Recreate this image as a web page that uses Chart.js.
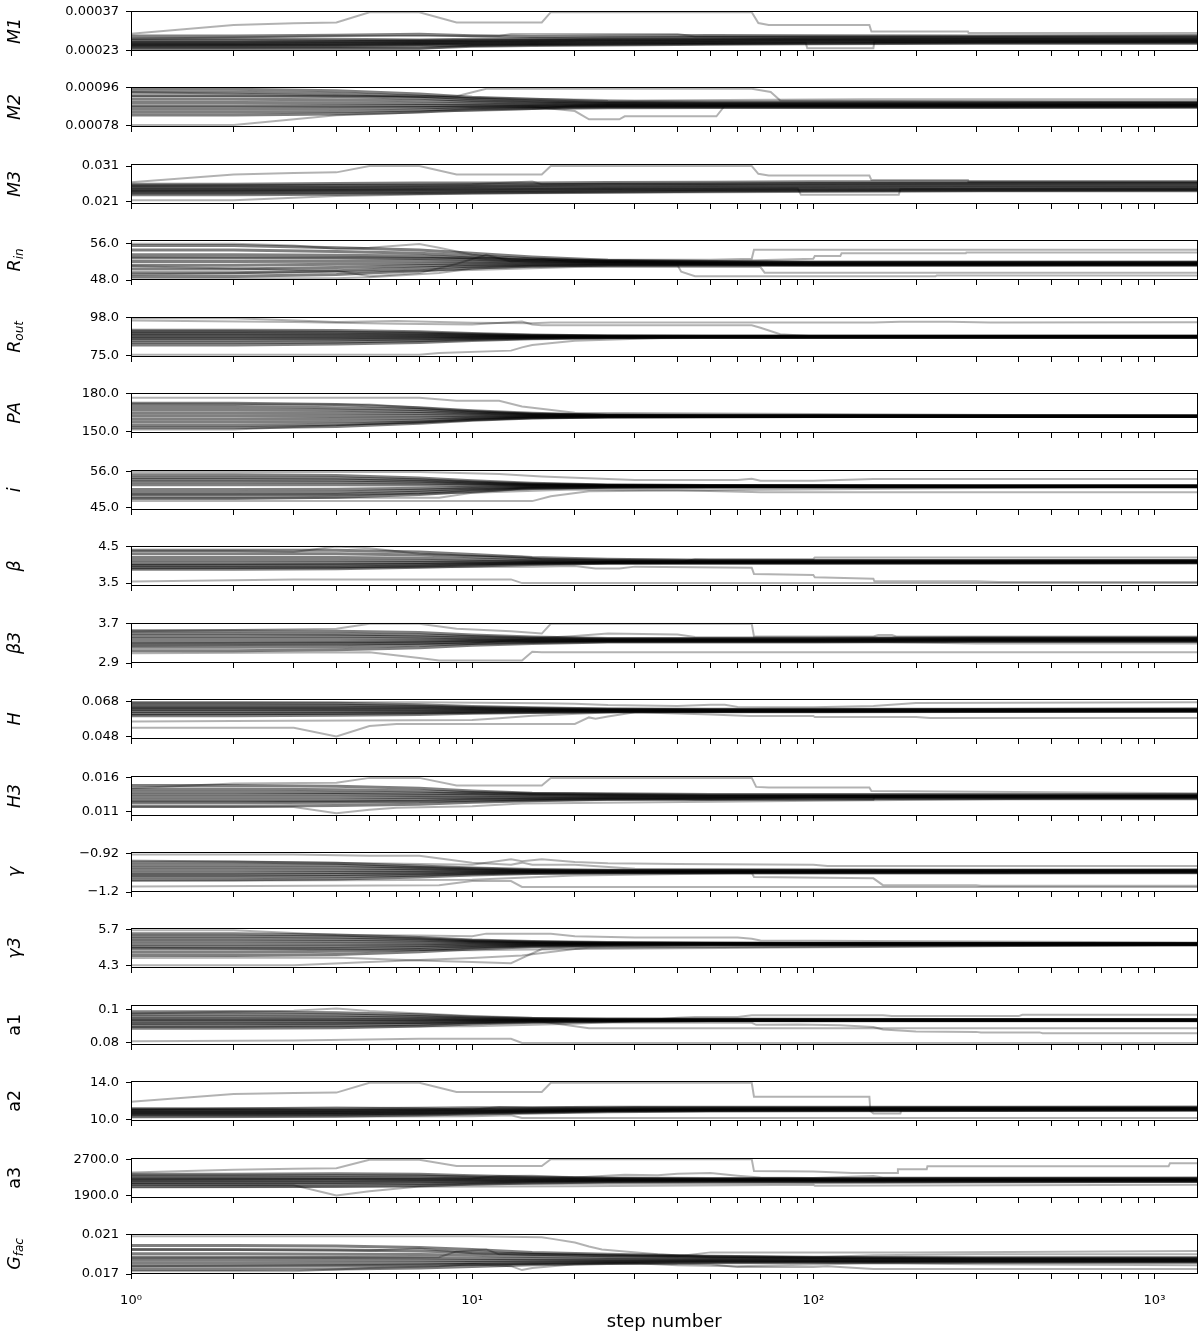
<!DOCTYPE html>
<html>
<head>
<meta charset="utf-8">
<title>Walker traces</title>
<script src="https://cdn.jsdelivr.net/npm/chart.js@4"></script>
<style>
    body { margin: 0; background: #fff; }
    #wrap { position: relative; width: 1200px; height: 1336px; overflow: hidden; }
    #wrap canvas { position: absolute; left: 0; }
</style>
</head>
<body>
<div id="wrap"></div>
<script>
// Axis text
const panelTitles = [['M1', ''], ['M2', ''], ['M3', ''], ['R', 'in'], ['R', 'out'], ['PA', ''], ['i', ''], ['β', ''], ['β3', ''],
    ['H', ''], ['H3', ''], ['γ', ''], ['γ3', ''], ['a1', ''], ['a2', ''], ['a3', ''], ['G', 'fac']];
const titleItalic = [true, true, true, true, true, true, true, true, true, true, true, true, true, false, false, false, true];
const yTickLabels = [['0.00023', '0.00037'], ['0.00078', '0.00096'], ['0.021', '0.031'], ['48.0', '56.0'], ['75.0', '98.0'],
    ['150.0', '180.0'], ['45.0', '56.0'], ['3.5', '4.5'], ['2.9', '3.7'], ['0.048', '0.068'], ['0.011', '0.016'],
    ['\u22121.2', '\u22120.92'], ['4.3', '5.7'], ['0.08', '0.1'], ['10.0', '14.0'], ['1900.0', '2700.0'], ['0.017', '0.021']];
const yTickValues = [[0.00023, 0.00037], [0.00078, 0.00096], [0.021, 0.031], [48, 56], [75, 98], [150, 180], [45, 56],
    [3.5, 4.5], [2.9, 3.7], [0.048, 0.068], [0.011, 0.016], [-1.2, -0.92], [4.3, 5.7], [0.08, 0.1], [10, 14], [1900, 2700], [0.017, 0.021]];
const yLimits = [[0.000228, 0.000373], [0.000775, 0.000964], [0.0202, 0.03164], [48, 56.74], [74.1, 98.7], [148.7, 180.9],
    [44.3, 56.5], [3.42, 4.52], [2.9, 3.72], [0.0467, 0.0696], [0.0104, 0.0162], [-1.2, -0.9056], [4.212, 5.777],
    [0.0788, 0.1027], [9.88, 14.21], [1850, 2731], [0.017, 0.02109]];
const xTickSteps = [1, 2, 3, 4, 5, 6, 7, 8, 9, 10, 20, 30, 40, 50, 60, 70, 80, 90, 100, 200, 300, 400, 500, 600, 700, 800, 900, 1000];
const xLabelSteps = [1, 10, 100, 1000];
const xLabelText = ['10\u2070', '10\u00b9', '10\u00b2', '10\u00b3'];
const xTitle = 'step number';

// Walkers: core ones share these steps, the others carry their own [step, value] pairs
const coreSteps = [1, 2, 4, 7, 10, 15, 25, 50, 100, 300, 1337];

const coreM1 = [
    [2.82e-4, 2.82e-4, 2.85e-4, 2.88e-4, 2.83e-4, 2.80e-4, 2.82e-4, 2.84e-4, 2.83e-4, 2.82e-4, 2.83e-4],
    [2.72e-4, 2.72e-4, 2.70e-4, 2.68e-4, 2.70e-4, 2.72e-4, 2.75e-4, 2.77e-4, 2.78e-4, 2.77e-4, 2.78e-4],
    [2.65e-4, 2.65e-4, 2.64e-4, 2.65e-4, 2.66e-4, 2.68e-4, 2.70e-4, 2.72e-4, 2.73e-4, 2.74e-4, 2.74e-4],
    [2.60e-4, 2.60e-4, 2.61e-4, 2.62e-4, 2.63e-4, 2.65e-4, 2.67e-4, 2.68e-4, 2.70e-4, 2.71e-4, 2.71e-4],
    [2.56e-4, 2.56e-4, 2.57e-4, 2.58e-4, 2.60e-4, 2.62e-4, 2.64e-4, 2.66e-4, 2.67e-4, 2.68e-4, 2.68e-4],
    [2.52e-4, 2.52e-4, 2.53e-4, 2.55e-4, 2.57e-4, 2.59e-4, 2.61e-4, 2.63e-4, 2.64e-4, 2.65e-4, 2.65e-4],
    [2.48e-4, 2.48e-4, 2.49e-4, 2.51e-4, 2.53e-4, 2.55e-4, 2.57e-4, 2.59e-4, 2.61e-4, 2.62e-4, 2.62e-4],
    [2.43e-4, 2.43e-4, 2.44e-4, 2.46e-4, 2.48e-4, 2.51e-4, 2.53e-4, 2.55e-4, 2.57e-4, 2.58e-4, 2.58e-4],
    [2.38e-4, 2.38e-4, 2.38e-4, 2.38e-4, 2.45e-4, 2.48e-4, 2.50e-4, 2.52e-4, 2.54e-4, 2.56e-4, 2.56e-4]
];
const extraM1 = [
    [[1, 2.90e-4], [2, 3.22e-4], [3, 3.28e-4], [4, 3.31e-4], [5, 3.68e-4], [7, 3.68e-4], [9, 3.31e-4], [16, 3.31e-4], [17, 3.68e-4],
        [66, 3.68e-4], [69, 3.29e-4], [74, 3.22e-4], [146, 3.22e-4], [148, 2.98e-4], [284, 2.98e-4], [285, 2.93e-4], [1337, 2.93e-4]],
    [[1, 2.72e-4], [4, 2.82e-4], [12, 2.82e-4], [13, 2.89e-4], [40, 2.89e-4], [45, 2.80e-4], [100, 2.80e-4], [1337, 2.84e-4]],
    [[1, 2.48e-4], [50, 2.58e-4], [95, 2.58e-4], [96, 2.38e-4], [150, 2.38e-4], [151, 2.62e-4], [1337, 2.66e-4]],
    [[1, 2.36e-4], [7, 2.36e-4], [10, 2.48e-4], [1337, 2.62e-4]]
];

const coreM2 = [
    [9.52e-4, 9.52e-4, 9.45e-4, 9.30e-4, 9.15e-4, 9.05e-4, 8.95e-4, 8.93e-4, 8.93e-4, 8.92e-4, 8.93e-4],
    [9.38e-4, 9.38e-4, 9.32e-4, 9.20e-4, 9.08e-4, 8.98e-4, 8.90e-4, 8.88e-4, 8.88e-4, 8.87e-4, 8.88e-4],
    [9.22e-4, 9.22e-4, 9.18e-4, 9.10e-4, 9.00e-4, 8.92e-4, 8.86e-4, 8.84e-4, 8.84e-4, 8.84e-4, 8.85e-4],
    [9.05e-4, 9.05e-4, 9.03e-4, 8.98e-4, 8.92e-4, 8.87e-4, 8.83e-4, 8.81e-4, 8.81e-4, 8.81e-4, 8.82e-4],
    [8.90e-4, 8.90e-4, 8.89e-4, 8.86e-4, 8.83e-4, 8.80e-4, 8.78e-4, 8.78e-4, 8.78e-4, 8.78e-4, 8.79e-4],
    [8.75e-4, 8.75e-4, 8.76e-4, 8.76e-4, 8.76e-4, 8.75e-4, 8.75e-4, 8.75e-4, 8.75e-4, 8.75e-4, 8.76e-4],
    [8.60e-4, 8.60e-4, 8.62e-4, 8.66e-4, 8.69e-4, 8.71e-4, 8.72e-4, 8.72e-4, 8.72e-4, 8.72e-4, 8.73e-4],
    [8.45e-4, 8.45e-4, 8.48e-4, 8.55e-4, 8.62e-4, 8.66e-4, 8.69e-4, 8.69e-4, 8.69e-4, 8.69e-4, 8.70e-4],
    [8.32e-4, 8.32e-4, 8.36e-4, 8.46e-4, 8.56e-4, 8.62e-4, 8.66e-4, 8.67e-4, 8.67e-4, 8.67e-4, 8.68e-4]
];
const extraM2 = [
    [[1, 7.84e-4], [2, 7.84e-4], [4, 8.30e-4], [6, 8.40e-4], [8, 8.50e-4], [10, 8.50e-4], [15, 8.60e-4], [20, 8.75e-4], [1337, 8.78e-4]],
    [[1, 9.20e-4], [9, 9.20e-4], [11, 9.55e-4], [66, 9.55e-4], [75, 9.40e-4], [80, 9.00e-4], [1337, 8.90e-4]],
    [[1, 8.70e-4], [15, 8.70e-4], [20, 8.50e-4], [22, 8.11e-4], [27, 8.11e-4], [28, 8.25e-4], [52, 8.25e-4], [55, 8.75e-4], [1337, 8.77e-4]],
    [[1, 9.40e-4], [30, 9.00e-4], [140, 9.05e-4], [1337, 9.05e-4]]
];

const coreM3 = [
    [0.0258, 0.0258, 0.0260, 0.0262, 0.0262, 0.0262, 0.0263, 0.0264, 0.0265, 0.0265, 0.0265],
    [0.0253, 0.0253, 0.0254, 0.0255, 0.0256, 0.0257, 0.0258, 0.0259, 0.0260, 0.0261, 0.0261],
    [0.0249, 0.0249, 0.0250, 0.0251, 0.0252, 0.0253, 0.0254, 0.0255, 0.0256, 0.0257, 0.0257],
    [0.0245, 0.0245, 0.0246, 0.0247, 0.0248, 0.0249, 0.0250, 0.0251, 0.0252, 0.0253, 0.0253],
    [0.0241, 0.0241, 0.0242, 0.0243, 0.0244, 0.0245, 0.0246, 0.0247, 0.0248, 0.0249, 0.0249],
    [0.0237, 0.0237, 0.0238, 0.0239, 0.0240, 0.0241, 0.0242, 0.0243, 0.0244, 0.0245, 0.0245],
    [0.0233, 0.0233, 0.0234, 0.0235, 0.0236, 0.0237, 0.0238, 0.0240, 0.0241, 0.0242, 0.0242],
    [0.0228, 0.0228, 0.0230, 0.0232, 0.0233, 0.0235, 0.0236, 0.0238, 0.0239, 0.0240, 0.0240]
];
const extraM3 = [
    [[1, 0.0264], [2, 0.0286], [3, 0.0290], [4, 0.0292], [5, 0.0310], [7, 0.0310], [9, 0.0286], [16, 0.0286], [17, 0.0310],
        [66, 0.0310], [69, 0.0288], [74, 0.0283], [146, 0.0283], [148, 0.0270], [284, 0.0270], [285, 0.0265], [1337, 0.0265]],
    [[1, 0.0213], [2, 0.0213], [4, 0.0225], [10, 0.0232], [1337, 0.0242]],
    [[1, 0.0240], [65, 0.0246], [90, 0.0246], [92, 0.0228], [178, 0.0228], [180, 0.0245], [1337, 0.0247]],
    [[1, 0.0255], [10, 0.0258], [12, 0.0262], [15, 0.0266], [16, 0.0258], [1337, 0.0262]]
];

const coreRin = [
    [55.5, 55.5, 55.0, 54.5, 53.8, 53.0, 52.3, 52.0, 51.9, 51.9, 51.9],
    [54.5, 54.5, 54.2, 53.8, 53.2, 52.6, 52.1, 51.9, 51.8, 51.8, 51.8],
    [53.5, 53.5, 53.4, 53.2, 52.8, 52.3, 52.0, 51.8, 51.7, 51.7, 51.7],
    [52.8, 52.8, 52.8, 52.7, 52.5, 52.1, 51.9, 51.7, 51.6, 51.6, 51.6],
    [52.0, 52.0, 52.1, 52.2, 52.1, 51.9, 51.8, 51.6, 51.5, 51.5, 51.5],
    [51.2, 51.2, 51.4, 51.6, 51.7, 51.7, 51.6, 51.5, 51.4, 51.4, 51.4],
    [50.4, 50.4, 50.7, 51.1, 51.3, 51.4, 51.4, 51.4, 51.3, 51.3, 51.4],
    [49.6, 49.6, 50.0, 50.6, 51.0, 51.2, 51.3, 51.3, 51.3, 51.3, 51.3],
    [48.8, 48.8, 49.2, 50.0, 50.6, 51.0, 51.2, 51.2, 51.2, 51.2, 51.2]
];
const extraRin = [
    [[1, 55.9], [2, 55.9], [3, 55.5], [4, 54.8], [5, 55.0], [7, 55.8], [8, 55.0], [10, 53.5], [13, 52.5], [30, 52.2], [60, 52.2],
        [100, 52.6], [101, 53.2], [120, 53.2], [121, 53.8], [280, 53.8], [281, 54.0], [1337, 54.0]],
    [[1, 53.0], [10, 52.8], [20, 52.4], [50, 52.4], [66, 52.6], [67, 54.6], [1337, 54.6]],
    [[1, 48.4], [4, 48.4], [5, 48.6], [8, 49.5], [10, 50.5], [15, 51.0], [40, 51.2], [41, 49.8], [45, 48.8], [228, 48.8], [230, 49.0], [1337, 49.0]],
    [[1, 49.2], [10, 50.2], [20, 50.8], [70, 50.8], [72, 49.6], [1337, 49.6]],
    [[1, 51.0], [4, 50.0], [5, 48.8], [7, 49.5], [9, 51.5], [11, 53.5], [13, 52.0], [16, 52.5], [20, 51.9], [1337, 51.8]]
];

const coreRout = [
    [90.5, 90.5, 90.3, 89.5, 88.5, 87.5, 87.0, 86.9, 86.9, 86.9, 86.9],
    [89.5, 89.5, 89.3, 88.8, 88.0, 87.3, 86.9, 86.8, 86.8, 86.8, 86.8],
    [88.5, 88.5, 88.4, 88.0, 87.5, 87.0, 86.8, 86.7, 86.7, 86.7, 86.7],
    [87.5, 87.5, 87.4, 87.2, 87.0, 86.8, 86.7, 86.6, 86.6, 86.6, 86.6],
    [86.5, 86.5, 86.5, 86.5, 86.5, 86.5, 86.5, 86.5, 86.5, 86.5, 86.5],
    [85.5, 85.5, 85.6, 85.8, 86.0, 86.2, 86.4, 86.4, 86.4, 86.4, 86.4],
    [84.5, 84.5, 84.7, 85.1, 85.5, 85.9, 86.2, 86.3, 86.3, 86.3, 86.3],
    [83.0, 83.0, 83.3, 84.0, 84.8, 85.5, 86.0, 86.2, 86.2, 86.2, 86.2],
    [81.5, 81.5, 82.0, 83.0, 84.2, 85.2, 85.9, 86.1, 86.1, 86.1, 86.1]
];
const extraRout = [
    [[1, 97.8], [2, 97.8], [4, 95.5], [6, 96.2], [10, 95.0], [15, 94.8], [17, 95.2], [150, 95.2], [180, 95.6], [250, 95.6], [330, 95.2], [1337, 95.4]],
    [[1, 96.5], [3, 95.5], [6, 94.5], [10, 94.0], [14, 95.8], [15, 94.0], [16, 93.5], [66, 93.5], [70, 92.0], [80, 88.0], [100, 86.8], [1337, 86.8]],
    [[1, 75.5], [7, 75.5], [8, 76.5], [13, 78.0], [14, 80.0], [15, 81.5], [20, 84.0], [40, 86.0], [1337, 86.6]]
];

const corePA = [
    [172.5, 172.5, 171.5, 169.0, 166.5, 164.5, 163.0, 162.6, 162.5, 162.4, 162.4],
    [170.0, 170.0, 169.0, 167.5, 165.5, 164.0, 162.8, 162.5, 162.4, 162.3, 162.3],
    [167.5, 167.5, 167.0, 166.0, 164.8, 163.5, 162.7, 162.4, 162.3, 162.3, 162.3],
    [165.0, 165.0, 164.8, 164.3, 163.8, 163.0, 162.5, 162.3, 162.3, 162.2, 162.2],
    [162.5, 162.5, 162.5, 162.5, 162.5, 162.3, 162.3, 162.2, 162.2, 162.2, 162.2],
    [160.0, 160.0, 160.3, 160.8, 161.4, 161.9, 162.1, 162.1, 162.1, 162.1, 162.1],
    [157.5, 157.5, 158.0, 159.0, 160.5, 161.5, 162.0, 162.0, 162.0, 162.0, 162.0],
    [155.0, 155.0, 155.8, 157.5, 159.5, 161.0, 161.8, 161.9, 161.9, 161.9, 161.9],
    [153.0, 153.0, 154.0, 156.5, 159.0, 160.7, 161.6, 161.8, 161.9, 161.9, 161.9]
];
const extraPA = [
    [[1, 177.0], [7, 177.0], [9, 174.5], [12, 174.5], [14, 170.0], [20, 165.0], [1337, 162.4]],
    [[1, 172.0], [4, 171.5], [5, 171.5], [8, 168.0], [15, 164.0], [1337, 162.3]],
    [[1, 151.5], [2, 151.5], [4, 155.0], [8, 158.0], [15, 161.0], [1337, 162.1]]
];

const coreI = [
    [55.0, 55.0, 54.8, 54.0, 53.2, 52.4, 51.9, 51.7, 51.7, 51.6, 51.6],
    [54.2, 54.2, 54.0, 53.5, 52.8, 52.2, 51.8, 51.7, 51.6, 51.6, 51.6],
    [53.5, 53.5, 53.4, 53.0, 52.5, 52.0, 51.7, 51.6, 51.6, 51.6, 51.6],
    [52.8, 52.8, 52.7, 52.5, 52.2, 51.9, 51.7, 51.6, 51.6, 51.5, 51.5],
    [52.0, 52.0, 52.0, 51.9, 51.8, 51.7, 51.6, 51.5, 51.5, 51.5, 51.5],
    [50.5, 50.5, 50.6, 50.9, 51.2, 51.4, 51.5, 51.5, 51.5, 51.5, 51.5],
    [49.6, 49.6, 49.8, 50.3, 50.8, 51.2, 51.4, 51.4, 51.4, 51.4, 51.4],
    [48.8, 48.8, 49.0, 49.7, 50.4, 51.0, 51.3, 51.4, 51.4, 51.4, 51.4],
    [47.8, 47.8, 48.2, 49.0, 50.0, 50.8, 51.2, 51.3, 51.3, 51.3, 51.3]
];
const extraI = [
    [[1, 55.8], [7, 55.8], [12, 55.2], [16, 54.5], [30, 53.4], [60, 53.4], [66, 53.8], [70, 53.2], [100, 53.2], [150, 53.7], [1337, 53.7]],
    [[1, 47.0], [10, 47.0], [15, 47.0], [17, 48.5], [22, 50.0], [1337, 51.5]],
    [[1, 49.0], [5, 49.0], [10, 49.5], [20, 50.5], [40, 50.3], [66, 49.8], [70, 49.7], [1337, 49.7]],
    [[1, 48.0], [8, 48.0], [10, 49.5], [14, 50.8], [1337, 51.4]]
];

const coreBeta = [
    [4.40, 4.40, 4.40, 4.35, 4.28, 4.20, 4.15, 4.12, 4.12, 4.12, 4.12],
    [4.30, 4.30, 4.30, 4.27, 4.22, 4.16, 4.12, 4.10, 4.10, 4.10, 4.11],
    [4.20, 4.20, 4.20, 4.18, 4.15, 4.12, 4.10, 4.09, 4.09, 4.09, 4.10],
    [4.12, 4.12, 4.12, 4.11, 4.10, 4.09, 4.08, 4.08, 4.08, 4.08, 4.09],
    [4.04, 4.04, 4.05, 4.06, 4.07, 4.07, 4.07, 4.07, 4.07, 4.07, 4.08],
    [3.98, 3.98, 3.99, 4.01, 4.03, 4.05, 4.06, 4.06, 4.06, 4.06, 4.07],
    [3.93, 3.93, 3.94, 3.97, 4.00, 4.03, 4.05, 4.05, 4.05, 4.05, 4.06],
    [3.88, 3.88, 3.89, 3.93, 3.97, 4.01, 4.04, 4.04, 4.04, 4.05, 4.05]
];
const extraBeta = [
    [[1, 4.38], [2, 4.38], [3, 4.35], [4, 4.50], [5, 4.45], [7, 4.30], [10, 4.25], [14, 4.22], [16, 4.15], [1337, 4.12]],
    [[1, 3.54], [2, 3.58], [3, 3.60], [13, 3.60], [14, 3.50], [1337, 3.50]],
    [[1, 3.90], [15, 3.95], [20, 3.97], [23, 3.90], [27, 3.90], [30, 3.95], [66, 3.92], [67, 3.75], [100, 3.72], [101, 3.66],
        [150, 3.62], [151, 3.55], [300, 3.55], [350, 3.53], [1337, 3.53]],
    [[1, 4.00], [40, 4.05], [45, 4.15], [100, 4.16], [101, 4.20], [1337, 4.20]]
];

const coreBeta3 = [
    [3.56, 3.56, 3.55, 3.52, 3.47, 3.43, 3.40, 3.40, 3.40, 3.41, 3.41],
    [3.50, 3.50, 3.49, 3.47, 3.44, 3.41, 3.39, 3.39, 3.39, 3.40, 3.40],
    [3.45, 3.45, 3.45, 3.43, 3.41, 3.39, 3.38, 3.38, 3.38, 3.39, 3.39],
    [3.40, 3.40, 3.40, 3.39, 3.38, 3.37, 3.37, 3.37, 3.37, 3.38, 3.38],
    [3.34, 3.34, 3.34, 3.35, 3.36, 3.36, 3.36, 3.36, 3.36, 3.37, 3.37],
    [3.28, 3.28, 3.29, 3.31, 3.33, 3.34, 3.35, 3.35, 3.35, 3.36, 3.36],
    [3.22, 3.22, 3.23, 3.26, 3.30, 3.32, 3.34, 3.34, 3.34, 3.35, 3.35],
    [3.15, 3.15, 3.17, 3.21, 3.26, 3.30, 3.33, 3.33, 3.33, 3.34, 3.34]
];
const extraBeta3 = [
    [[1, 3.55], [4, 3.60], [5, 3.70], [7, 3.70], [9, 3.60], [13, 3.55], [16, 3.50], [17, 3.70], [66, 3.70], [67, 3.44], [150, 3.44],
        [155, 3.47], [170, 3.47], [175, 3.44], [1337, 3.44]],
    [[1, 3.10], [5, 3.12], [7, 3.00], [8, 2.95], [14, 2.95], [15, 3.13], [16, 3.12], [1337, 3.12]],
    [[1, 3.25], [10, 3.30], [15, 3.40], [20, 3.45], [25, 3.50], [40, 3.48], [45, 3.43], [1337, 3.42]],
    [[1, 3.30], [20, 3.35], [100, 3.35], [300, 3.30], [1337, 3.30]]
];

const coreH = [
    [0.0672, 0.0672, 0.0670, 0.0662, 0.0652, 0.0645, 0.0638, 0.0636, 0.0636, 0.0637, 0.0638],
    [0.0660, 0.0660, 0.0659, 0.0654, 0.0647, 0.0641, 0.0636, 0.0634, 0.0634, 0.0635, 0.0636],
    [0.0650, 0.0650, 0.0649, 0.0646, 0.0641, 0.0637, 0.0634, 0.0632, 0.0632, 0.0633, 0.0634],
    [0.0642, 0.0642, 0.0641, 0.0639, 0.0636, 0.0633, 0.0631, 0.0630, 0.0630, 0.0631, 0.0632],
    [0.0634, 0.0634, 0.0633, 0.0632, 0.0631, 0.0630, 0.0629, 0.0628, 0.0628, 0.0629, 0.0630],
    [0.0624, 0.0624, 0.0624, 0.0624, 0.0625, 0.0626, 0.0627, 0.0626, 0.0626, 0.0627, 0.0628],
    [0.0612, 0.0612, 0.0613, 0.0616, 0.0619, 0.0622, 0.0624, 0.0624, 0.0624, 0.0625, 0.0626],
    [0.0600, 0.0600, 0.0602, 0.0607, 0.0613, 0.0618, 0.0622, 0.0622, 0.0622, 0.0623, 0.0624]
];
const extraH = [
    [[1, 0.0531], [3, 0.0531], [4, 0.0482], [5, 0.0541], [6, 0.0553], [20, 0.0553], [22, 0.0590], [23, 0.0583], [25, 0.0595], [30, 0.0620], [1337, 0.0628]],
    [[1, 0.0567], [2, 0.0569], [10, 0.0575], [12, 0.0585], [15, 0.0600], [30, 0.0625], [1337, 0.0630]],
    [[1, 0.0676], [7, 0.0676], [16, 0.0670], [20, 0.0668], [25, 0.0660], [40, 0.0655], [50, 0.0662], [55, 0.0662], [60, 0.0650],
        [100, 0.0648], [150, 0.0655], [200, 0.0672], [1337, 0.0677]],
    [[1, 0.0605], [30, 0.0620], [40, 0.0612], [50, 0.0606], [65, 0.0598], [100, 0.0598], [101, 0.0592], [200, 0.0592], [220, 0.0587], [1337, 0.0587]]
];

const coreH3 = [
    [0.0148, 0.0148, 0.0147, 0.0144, 0.0140, 0.0137, 0.0136, 0.0135, 0.0135, 0.0135, 0.0135],
    [0.0143, 0.0143, 0.0142, 0.0140, 0.0138, 0.0136, 0.0135, 0.0134, 0.0134, 0.0134, 0.0134],
    [0.0139, 0.0139, 0.0138, 0.0137, 0.0136, 0.0135, 0.0134, 0.0133, 0.0133, 0.0133, 0.0133],
    [0.0135, 0.0135, 0.0135, 0.0134, 0.0134, 0.0133, 0.0133, 0.0132, 0.0132, 0.0132, 0.0133],
    [0.0131, 0.0131, 0.0131, 0.0131, 0.0131, 0.0131, 0.0131, 0.0131, 0.0132, 0.0132, 0.0132],
    [0.0127, 0.0127, 0.0127, 0.0128, 0.0129, 0.0129, 0.0130, 0.0130, 0.0131, 0.0131, 0.0131],
    [0.0123, 0.0123, 0.0124, 0.0125, 0.0127, 0.0128, 0.0129, 0.0129, 0.0130, 0.0130, 0.0130],
    [0.0118, 0.0118, 0.0119, 0.0121, 0.0124, 0.0126, 0.0128, 0.0128, 0.0129, 0.0129, 0.0129]
];
const extraH3 = [
    [[1, 0.0144], [2, 0.0151], [4, 0.0152], [5, 0.0159], [7, 0.0159], [9, 0.0148], [16, 0.0148], [17, 0.0159], [66, 0.0159],
        [68, 0.0146], [74, 0.0145], [146, 0.0145], [148, 0.0140], [1337, 0.0137]],
    [[1, 0.0117], [3, 0.0117], [4, 0.0108], [5, 0.0113], [6, 0.0116], [10, 0.0118], [14, 0.0122], [1337, 0.0131]],
    [[1, 0.0125], [10, 0.0125], [40, 0.0128], [45, 0.0127], [150, 0.0127], [151, 0.0133], [1337, 0.0133]]
];

const coreGamma = [
    [-0.980, -0.980, -0.990, -1.010, -1.025, -1.035, -1.040, -1.040, -1.040, -1.040, -1.038],
    [-1.000, -1.000, -1.005, -1.020, -1.030, -1.040, -1.043, -1.043, -1.043, -1.043, -1.041],
    [-1.020, -1.020, -1.022, -1.030, -1.038, -1.044, -1.046, -1.046, -1.046, -1.045, -1.044],
    [-1.040, -1.040, -1.040, -1.042, -1.045, -1.048, -1.049, -1.049, -1.049, -1.048, -1.047],
    [-1.060, -1.060, -1.058, -1.055, -1.053, -1.052, -1.052, -1.052, -1.052, -1.051, -1.050],
    [-1.075, -1.075, -1.072, -1.066, -1.060, -1.056, -1.055, -1.055, -1.055, -1.054, -1.053],
    [-1.090, -1.090, -1.086, -1.077, -1.067, -1.060, -1.058, -1.058, -1.058, -1.057, -1.056],
    [-1.110, -1.110, -1.105, -1.090, -1.075, -1.065, -1.061, -1.061, -1.061, -1.060, -1.059]
];
const extraGamma = [
    [[1, -0.925], [3, -0.925], [5, -0.935], [7, -0.935], [10, -0.985], [13, -1.000], [14, -0.985], [15, -1.000], [20, -1.000], [30, -1.030], [1337, -1.040]],
    [[1, -1.160], [8, -1.150], [10, -1.120], [13, -1.120], [14, -1.163], [1337, -1.163]],
    [[1, -1.120], [10, -1.110], [20, -1.080], [66, -1.060], [67, -1.090], [150, -1.100], [160, -1.150], [300, -1.150], [310, -1.155], [1337, -1.155]],
    [[1, -0.970], [5, -0.990], [10, -1.000], [13, -0.960], [14, -0.975], [16, -0.960], [20, -0.980], [25, -0.990], [40, -0.995],
        [100, -1.000], [110, -1.010], [1337, -1.010]]
];

const coreGamma3 = [
    [5.55, 5.55, 5.50, 5.40, 5.30, 5.24, 5.20, 5.19, 5.18, 5.18, 5.17],
    [5.45, 5.45, 5.42, 5.35, 5.27, 5.22, 5.19, 5.18, 5.17, 5.17, 5.16],
    [5.35, 5.35, 5.33, 5.29, 5.24, 5.20, 5.18, 5.17, 5.17, 5.16, 5.16],
    [5.25, 5.25, 5.24, 5.22, 5.20, 5.18, 5.17, 5.16, 5.16, 5.16, 5.15],
    [5.15, 5.15, 5.15, 5.15, 5.16, 5.16, 5.16, 5.16, 5.15, 5.15, 5.15],
    [5.05, 5.05, 5.06, 5.08, 5.11, 5.13, 5.14, 5.15, 5.15, 5.15, 5.14],
    [4.95, 4.95, 4.97, 5.01, 5.06, 5.10, 5.13, 5.14, 5.14, 5.14, 5.14],
    [4.83, 4.83, 4.86, 4.93, 5.01, 5.07, 5.11, 5.13, 5.13, 5.13, 5.13],
    [4.70, 4.70, 4.74, 4.84, 4.95, 5.04, 5.09, 5.12, 5.12, 5.12, 5.12]
];
const extraGamma3 = [
    [[1, 5.68], [2, 5.68], [4, 5.50], [7, 5.48], [10, 5.45], [11, 5.55], [17, 5.55], [20, 5.45], [30, 5.40], [60, 5.40], [66, 5.35], [70, 5.28], [1337, 5.20]],
    [[1, 4.32], [3, 4.32], [5, 4.45], [8, 4.55], [10, 4.60], [14, 4.70], [20, 4.95], [1337, 5.12]],
    [[1, 4.60], [4, 4.62], [7, 4.50], [10, 4.45], [13, 4.40], [14, 4.60], [16, 4.95], [20, 5.02], [1337, 5.10]],
    [[1, 5.00], [10, 4.90], [20, 4.95], [22, 5.00], [1337, 5.10]]
];

const coreA1 = [
    [0.0985, 0.0985, 0.0980, 0.0968, 0.0955, 0.0945, 0.0940, 0.0939, 0.0939, 0.0939, 0.0939],
    [0.0970, 0.0970, 0.0966, 0.0958, 0.0949, 0.0942, 0.0938, 0.0938, 0.0938, 0.0938, 0.0938],
    [0.0955, 0.0955, 0.0953, 0.0948, 0.0943, 0.0939, 0.0937, 0.0937, 0.0937, 0.0937, 0.0937],
    [0.0942, 0.0942, 0.0941, 0.0939, 0.0937, 0.0936, 0.0936, 0.0936, 0.0936, 0.0936, 0.0936],
    [0.0930, 0.0930, 0.0930, 0.0931, 0.0932, 0.0933, 0.0934, 0.0935, 0.0935, 0.0935, 0.0935],
    [0.0917, 0.0917, 0.0918, 0.0922, 0.0926, 0.0930, 0.0933, 0.0934, 0.0934, 0.0934, 0.0934],
    [0.0903, 0.0903, 0.0905, 0.0912, 0.0920, 0.0927, 0.0931, 0.0933, 0.0933, 0.0933, 0.0933],
    [0.0888, 0.0888, 0.0891, 0.0901, 0.0913, 0.0923, 0.0929, 0.0932, 0.0932, 0.0932, 0.0932]
];
const extraA1 = [
    [[1, 0.0975], [2, 0.0985], [3, 0.0992], [4, 0.1005], [5, 0.0990], [7, 0.0975], [10, 0.0960], [15, 0.0950], [1337, 0.0938]],
    [[1, 0.0810], [3, 0.0815], [7, 0.0825], [13, 0.0825], [14, 0.0800], [1337, 0.0800]],
    [[1, 0.0895], [10, 0.0900], [20, 0.0915], [30, 0.0930], [40, 0.0950], [45, 0.0955], [60, 0.0955], [66, 0.0965], [160, 0.0965],
        [170, 0.0960], [400, 0.0960], [410, 0.0968], [1337, 0.0968]],
    [[1, 0.0915], [20, 0.0922], [66, 0.0920], [68, 0.0908], [90, 0.0910], [120, 0.0905], [150, 0.0895], [160, 0.0880], [200, 0.0868],
        [300, 0.0866], [310, 0.0863], [460, 0.0863], [470, 0.0858], [1337, 0.0858]],
    [[1, 0.0935], [15, 0.0935], [22, 0.0888], [1337, 0.0888]]
];

const coreA2 = [
    [11.20, 11.20, 11.20, 11.25, 11.30, 11.30, 11.35, 11.35, 11.35, 11.35, 11.40],
    [11.05, 11.05, 11.05, 11.10, 11.15, 11.20, 11.25, 11.27, 11.28, 11.30, 11.32],
    [10.95, 10.95, 10.95, 11.00, 11.05, 11.10, 11.15, 11.20, 11.22, 11.24, 11.26],
    [10.85, 10.85, 10.86, 10.90, 10.95, 11.02, 11.10, 11.15, 11.17, 11.19, 11.21],
    [10.75, 10.75, 10.76, 10.80, 10.87, 10.95, 11.05, 11.10, 11.12, 11.14, 11.16],
    [10.65, 10.65, 10.67, 10.72, 10.80, 10.88, 11.00, 11.05, 11.08, 11.10, 11.12],
    [10.55, 10.55, 10.57, 10.63, 10.72, 10.82, 10.95, 11.00, 11.03, 11.05, 11.08],
    [10.40, 10.40, 10.43, 10.52, 10.63, 10.75, 10.88, 10.95, 10.98, 11.00, 11.03]
];
const extraA2 = [
    [[1, 11.94], [2, 12.79], [3, 12.90], [4, 12.94], [5, 14.00], [7, 14.00], [9, 13.00], [16, 13.00], [17, 14.00], [66, 14.00],
        [67, 12.50], [146, 12.50], [147, 10.95], [150, 10.70], [180, 10.70], [181, 11.00], [1337, 11.05]],
    [[1, 11.10], [4, 11.35], [7, 11.25], [10, 11.10], [12, 11.40], [15, 11.30], [20, 11.35], [25, 11.30], [30, 11.40], [40, 11.35], [1337, 11.30]],
    [[1, 10.25], [10, 10.40], [13, 10.50], [14, 10.20], [1337, 10.20]],
    [[1, 11.20], [5, 11.10], [10, 11.00], [50, 11.05], [100, 10.95], [1337, 11.25]]
];

const coreA3 = [
    [2370, 2370, 2380, 2370, 2340, 2310, 2290, 2280, 2280, 2280, 2285],
    [2330, 2330, 2335, 2330, 2310, 2290, 2275, 2268, 2268, 2270, 2272],
    [2290, 2290, 2292, 2290, 2280, 2270, 2262, 2258, 2258, 2260, 2262],
    [2260, 2260, 2260, 2258, 2255, 2252, 2250, 2248, 2248, 2250, 2252],
    [2225, 2225, 2226, 2228, 2230, 2233, 2237, 2238, 2238, 2240, 2242],
    [2190, 2190, 2192, 2198, 2205, 2215, 2225, 2228, 2228, 2230, 2232],
    [2150, 2150, 2155, 2165, 2180, 2198, 2212, 2218, 2218, 2220, 2222],
    [2100, 2100, 2108, 2125, 2150, 2178, 2200, 2208, 2208, 2210, 2212]
];
const extraA3 = [
    [[1, 2408], [2, 2470], [3, 2490], [4, 2501], [5, 2688], [7, 2688], [9, 2551], [16, 2551], [17, 2700], [66, 2700], [67, 2440],
        [100, 2430], [130, 2400], [176, 2400], [177, 2480], [215, 2480], [216, 2545], [1100, 2545], [1110, 2610], [1337, 2610]],
    [[1, 2150], [3, 2130], [4, 1905], [5, 2000], [7, 2100], [10, 2150], [1337, 2200]],
    [[1, 2250], [10, 2280], [12, 2330], [15, 2340], [20, 2300], [28, 2360], [35, 2350], [40, 2380], [50, 2400], [60, 2340],
        [70, 2300], [100, 2290], [150, 2330], [160, 2300], [1337, 2300]],
    [[1, 2080], [20, 2110], [100, 2140], [101, 2120], [1337, 2140]]
];

const coreGfac = [
    [0.01990, 0.01990, 0.01985, 0.01970, 0.01950, 0.01920, 0.01900, 0.01880, 0.01870, 0.01865, 0.01865],
    [0.01950, 0.01950, 0.01945, 0.01935, 0.01920, 0.01900, 0.01885, 0.01872, 0.01865, 0.01860, 0.01860],
    [0.01905, 0.01905, 0.01902, 0.01898, 0.01890, 0.01878, 0.01868, 0.01860, 0.01856, 0.01853, 0.01853],
    [0.01870, 0.01870, 0.01868, 0.01865, 0.01860, 0.01855, 0.01850, 0.01848, 0.01846, 0.01845, 0.01845],
    [0.01840, 0.01840, 0.01840, 0.01840, 0.01838, 0.01838, 0.01838, 0.01838, 0.01838, 0.01838, 0.01838],
    [0.01810, 0.01810, 0.01812, 0.01815, 0.01818, 0.01822, 0.01826, 0.01830, 0.01830, 0.01831, 0.01831],
    [0.01780, 0.01780, 0.01783, 0.01790, 0.01798, 0.01808, 0.01816, 0.01822, 0.01824, 0.01825, 0.01825],
    [0.01745, 0.01745, 0.01750, 0.01762, 0.01777, 0.01795, 0.01808, 0.01815, 0.01818, 0.01819, 0.01819]
];
const extraGfac = [
    [[1, 0.02084], [10, 0.02084], [16, 0.02075], [17, 0.02060], [20, 0.02020], [22, 0.01980], [24, 0.01950], [28, 0.01930],
        [35, 0.01900], [50, 0.01870], [1337, 0.01845]],
    [[1, 0.01728], [3, 0.01728], [5, 0.01760], [8, 0.01780], [10, 0.01800], [13, 0.01780], [14, 0.01740], [15, 0.01760],
        [20, 0.01800], [30, 0.01810], [50, 0.01800], [60, 0.01770], [100, 0.01770], [110, 0.01780], [150, 0.01750], [1337, 0.01750]],
    [[1, 0.01860], [8, 0.01870], [9, 0.01930], [11, 0.01950], [12, 0.01900], [40, 0.01880], [50, 0.01920], [200, 0.01920], [1337, 0.01935]],
    [[1, 0.01950], [5, 0.01940], [7, 0.01960], [10, 0.01910], [100, 0.01870], [150, 0.01890], [300, 0.01900], [1337, 0.01900]],
    [[1, 0.01780], [30, 0.01810], [40, 0.01790], [60, 0.01780], [80, 0.01790], [150, 0.01810], [300, 0.01800], [1337, 0.01790]]
];

const coreSets = [coreM1, coreM2, coreM3, coreRin, coreRout, corePA, coreI, coreBeta, coreBeta3, coreH, coreH3,
    coreGamma, coreGamma3, coreA1, coreA2, coreA3, coreGfac];
const extraSets = [extraM1, extraM2, extraM3, extraRin, extraRout, extraPA, extraI, extraBeta, extraBeta3, extraH, extraH3,
    extraGamma, extraGamma3, extraA1, extraA2, extraA3, extraGfac];

//Frame and y label
const frameAndTitle = {
    id: 'frameAndTitle',
    afterDraw(chart, args, opts) {
        const { ctx, chartArea: a } = chart;
        ctx.save();
        ctx.strokeStyle = '#000';
        ctx.lineWidth = 1;
        ctx.strokeRect(Math.round(a.left) + 0.5, Math.round(a.top) + 0.5, Math.round(a.right - a.left) - 1, Math.round(a.bottom - a.top) - 1);

        const [main, sub] = opts.title;
        const style = opts.italic ? 'italic ' : '';
        const mainFont = style + '17.5px "DejaVu Sans"';
        const subFont = style + '12px "DejaVu Sans"';
        ctx.font = mainFont;
        const w1 = ctx.measureText(main).width;
        ctx.font = subFont;
        const w2 = sub ? ctx.measureText(sub).width : 0;
        ctx.translate(opts.x, (a.top + a.bottom) / 2);
        ctx.rotate(-Math.PI / 2);
        ctx.fillStyle = '#000';
        ctx.textAlign = 'left';
        ctx.textBaseline = 'alphabetic';
        const x0 = -(w1 + w2) / 2;
        ctx.font = mainFont;
        ctx.fillText(main, x0, 6.5);
        if (sub) {
            ctx.font = subFont;
            ctx.fillText(sub, x0 + w1, 10);
        }
        ctx.restore();
    }
};

Chart.defaults.font.family = '"DejaVu Sans"';
Chart.defaults.color = '#000';

//Panels
function buildPanel(i) {
    const wrap = document.getElementById('wrap');
    const last = i === panelTitles.length - 1;
    const top = Math.round(4 + i * 76.45) - 8;
    const h = last ? 1336 - top : 80;
    const canvas = document.createElement('canvas');
    canvas.width = 1200;
    canvas.height = h;
    canvas.style.top = top + 'px';
    wrap.appendChild(canvas);

    const datasets = [];
    coreSets[i].forEach(vals => {
        datasets.push({
            data: coreSteps.map((s, k) => [s, vals[k]]),
            borderColor: 'rgba(0, 0, 0, 0.5)',
            borderWidth: 3
        });
    });
    extraSets[i].forEach(pts => {
        datasets.push({
            data: pts,
            borderColor: 'rgba(0, 0, 0, 0.3)',
            borderWidth: 2
        });
    });

    new Chart(canvas, {
        type: 'line',
        data: { datasets },
        options: {
            responsive: false,
            animation: false,
            events: [],
            layout: { padding: { top: 8, right: 2.5, left: 0, bottom: 0 } },
            elements: { point: { radius: 0 }, line: { tension: 0, fill: false } },
            plugins: {
                legend: { display: false },
                tooltip: { enabled: false },
                frameAndTitle: { title: panelTitles[i], italic: titleItalic[i], x: 13 }
            },
            scales: {
                x: {
                    type: 'logarithmic',
                    min: 1,
                    max: 1337,
                    afterBuildTicks: scale => { scale.ticks = xTickSteps.map(v => ({ value: v })); },
                    afterFit: scale => { scale.height = h - 8 - 47; },
                    border: { display: false },
                    grid: { drawOnChartArea: false, drawTicks: true, tickLength: 5, tickColor: '#000', tickWidth: 1 },
                    ticks: {
                        autoSkip: false,
                        maxRotation: 0,
                        minRotation: 0,
                        padding: 14,
                        font: { size: 13 },
                        callback: value => {
                            const k = xLabelSteps.indexOf(value);
                            return last && k >= 0 ? xLabelText[k] : '';
                        }
                    },
                    title: {
                        display: last,
                        text: xTitle,
                        font: { size: 18 },
                        padding: { top: 0, bottom: 3 }
                    }
                },
                y: {
                    type: 'linear',
                    min: yLimits[i][0],
                    max: yLimits[i][1],
                    afterBuildTicks: scale => { scale.ticks = yTickValues[i].map(v => ({ value: v })); },
                    afterFit: scale => { scale.width = 131; },
                    border: { display: false },
                    grid: { drawOnChartArea: false, drawTicks: true, tickLength: 5, tickColor: '#000', tickWidth: 1 },
                    ticks: {
                        padding: 7,
                        font: { size: 13 },
                        callback: (value, k) => yTickLabels[i][k]
                    }
                }
            }
        },
        plugins: [frameAndTitle]
    });
}

document.addEventListener('DOMContentLoaded', () => {
    panelTitles.forEach((t, i) => buildPanel(i));
});
</script>
</body>
</html>
